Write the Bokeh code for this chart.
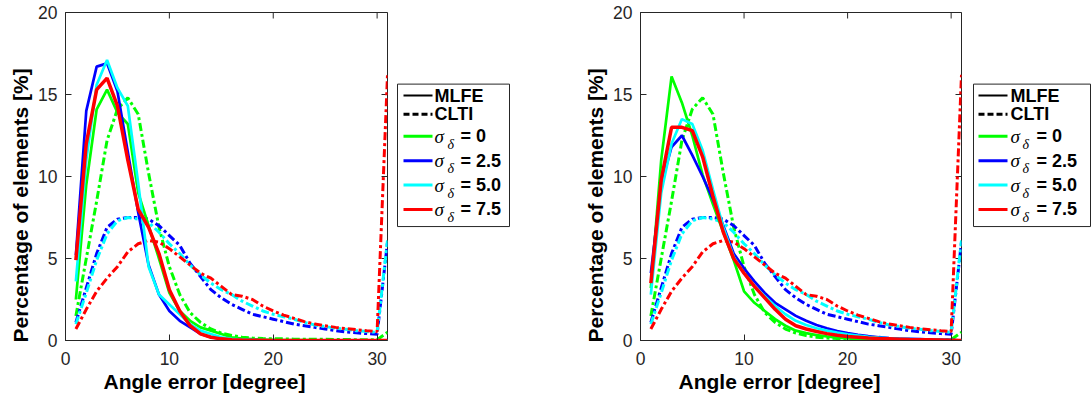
import math
from bokeh.plotting import figure
from bokeh.layouts import row
from bokeh.models import Range1d, Title, FixedTicker
from bokeh.core.properties import value
from bokeh.embed import file_html
from bokeh.resources import INLINE

# Angle-error bins (degrees); the last bin collects everything above 30
angle_bins = list(range(1, 32))
x_ticks = [0, 10, 20, 30]
y_ticks = [0, 5, 10, 15, 20]
x_max = 31
y_max = 20

sigma_labels = ["0", "2.5", "5.0", "7.5"]
sigma_colors = ["#00ff00", "#0000ff", "#00ffff", "#ff0000"]

# CLTI histograms (same reference method in both panels)
clti_s0 = [1.5, 5.0, 8.5, 12.2, 14.1, 14.8, 13.8, 10.2, 6.9, 4.5, 2.8, 1.7, 1.1, 0.7,
           0.45, 0.3, 0.2, 0.15, 0.12, 0.1, 0.1, 0.08, 0.08, 0.07, 0.07, 0.06, 0.06,
           0.05, 0.05, 0.05, 0.5]
clti_s25 = [1.1, 3.2, 5.3, 6.9, 7.4, 7.5, 7.5, 7.4, 7.0, 6.4, 5.8, 4.7, 3.9, 3.1, 2.6,
            2.2, 1.9, 1.6, 1.45, 1.3, 1.15, 1.0, 0.9, 0.8, 0.7, 0.6, 0.52, 0.47, 0.42,
            0.38, 6.0]
clti_s50 = [1.0, 2.9, 4.9, 6.5, 7.3, 7.5, 7.4, 7.2, 6.6, 5.9, 5.3, 4.6, 4.0, 3.5, 3.1,
            2.8, 2.4, 2.1, 1.8, 1.6, 1.45, 1.3, 1.1, 0.95, 0.85, 0.75, 0.68, 0.6, 0.55,
            0.5, 6.1]
clti_s75 = [0.7, 1.9, 3.0, 3.8, 4.5, 5.4, 5.9, 6.1, 6.0, 5.6, 5.1, 4.6, 4.1, 3.8, 3.3,
            2.8, 2.7, 2.5, 2.1, 1.8, 1.55, 1.35, 1.15, 1.0, 0.9, 0.8, 0.72, 0.66, 0.6,
            0.55, 16.2]

# MLFE histograms, left panel
mlfe_a_s0 = [2.5, 9.5, 14.1, 15.3, 13.9, 13.2, 9.0, 7.0, 5.0, 2.9, 1.8, 1.2, 0.8, 0.6,
             0.4, 0.2, 0.12, 0.08, 0.05, 0.04, 0.03, 0.02, 0.02, 0.01, 0.01, 0.01, 0.0,
             0.0, 0.0, 0.0, 0.0]
mlfe_a_s25 = [5.2, 14.0, 16.7, 16.9, 15.2, 11.5, 7.8, 4.6, 2.8, 1.8, 1.2, 0.8, 0.4, 0.2,
              0.1, 0.05, 0.03, 0.02, 0.01, 0.01, 0.0, 0.0, 0.0, 0.0, 0.0, 0.0, 0.0, 0.0,
              0.0, 0.0, 0.0]
mlfe_a_s50 = [3.6, 11.0, 15.6, 17.1, 15.4, 14.3, 9.6, 4.5, 2.8, 2.2, 1.6, 1.0, 0.6, 0.4,
              0.2, 0.1, 0.05, 0.03, 0.02, 0.01, 0.0, 0.0, 0.0, 0.0, 0.0, 0.0, 0.0, 0.0,
              0.0, 0.0, 0.0]
mlfe_a_s75 = [4.9, 12.0, 15.3, 16.0, 14.3, 11.0, 8.0, 6.9, 5.3, 3.1, 1.8, 0.9, 0.4, 0.2,
              0.1, 0.05, 0.03, 0.02, 0.01, 0.0, 0.0, 0.0, 0.0, 0.0, 0.0, 0.0, 0.0, 0.0,
              0.0, 0.0, 0.0]

# MLFE histograms, right panel
mlfe_b_s0 = [3.2, 11.0, 16.1, 14.5, 12.5, 10.1, 8.3, 6.6, 4.9, 3.0, 2.3, 1.8, 1.3, 0.9,
             0.6, 0.45, 0.33, 0.25, 0.18, 0.13, 0.1, 0.08, 0.06, 0.05, 0.04, 0.03, 0.02,
             0.02, 0.01, 0.01, 0.0]
mlfe_b_s25 = [4.1, 9.5, 11.8, 12.5, 11.3, 10.0, 8.6, 7.0, 5.3, 4.4, 3.6, 2.9, 2.3, 1.9,
              1.5, 1.2, 0.95, 0.75, 0.58, 0.45, 0.35, 0.27, 0.2, 0.15, 0.12, 0.1, 0.08,
              0.06, 0.05, 0.04, 0.0]
mlfe_b_s50 = [2.8, 9.0, 12.0, 13.5, 13.2, 11.6, 9.2, 6.9, 5.1, 4.1, 3.3, 2.7, 2.1, 1.6,
              1.2, 0.95, 0.75, 0.6, 0.48, 0.38, 0.3, 0.22, 0.17, 0.13, 0.1, 0.08, 0.06,
              0.05, 0.04, 0.03, 0.0]
mlfe_b_s75 = [3.5, 9.8, 13.0, 13.0, 12.8, 11.2, 8.8, 6.6, 5.0, 4.1, 3.3, 2.6, 1.9, 1.3,
              0.9, 0.7, 0.55, 0.42, 0.32, 0.25, 0.2, 0.15, 0.12, 0.1, 0.08, 0.06, 0.05,
              0.04, 0.03, 0.02, 0.0]

clti_series = [clti_s0, clti_s25, clti_s50, clti_s75]
mlfe_left = [mlfe_a_s0, mlfe_a_s25, mlfe_a_s50, mlfe_a_s75]
mlfe_right = [mlfe_b_s0, mlfe_b_s25, mlfe_b_s50, mlfe_b_s75]

AX = "#262626"
SANS = "Liberation Sans"
SERIF = "Liberation Serif"
DASH = "8 3 3 3"


def panel(width, border_left, mlfe_sets):
    p = figure(width=width, height=403, output_backend="svg", toolbar_location=None,
               x_range=Range1d(0, x_max), y_range=Range1d(0, y_max),
               min_border_left=border_left, min_border_right=5,
               min_border_top=12, min_border_bottom=63)
    p.background_fill_color = "white"
    p.border_fill_color = "white"
    p.outline_line_color = AX
    p.grid.visible = False
    for ax, ticks in ((p.xaxis[0], x_ticks), (p.yaxis[0], y_ticks)):
        ax.ticker = FixedTicker(ticks=ticks)
        ax.major_tick_in = 6
        ax.major_tick_out = 0
        ax.minor_tick_line_color = None
        ax.axis_line_color = AX
        ax.major_tick_line_color = AX
        ax.major_label_text_font = SANS
        ax.major_label_text_font_size = "17.5px"
        ax.major_label_text_color = AX
    p.xaxis.major_label_standoff = 11
    p.yaxis.major_label_standoff = 8

    # mirrored tick marks along the top and right edges of the box (clipped to the frame)
    p.scatter(x_ticks, [y_max] * len(x_ticks), marker="dash", size=12,
              angle=math.pi / 2, line_color=AX, line_width=1)
    p.scatter([x_max] * len(y_ticks), y_ticks, marker="dash", size=12,
              line_color=AX, line_width=1)

    p.add_layout(Title(text="Angle error [degree]", align="left", offset=38,
                       text_font=SANS, text_font_size="21px", text_font_style="bold",
                       text_color="black", standoff=1), "below")
    p.add_layout(Title(text="Percentage of elements [%]", align="left", offset=-2,
                       text_font=SANS, text_font_size="21px", text_font_style="bold",
                       text_color="black", standoff=8), "left")

    for ys, c in zip(clti_series, sigma_colors):
        p.line(angle_bins, ys, line_color=c, line_width=3, line_dash=DASH)
    for ys, c in zip(mlfe_sets, sigma_colors):
        p.line(angle_bins, ys, line_color=c, line_width=3.5 if c == "#ff0000" else 2.7)
    return p


def legend_panel(width, box_x0, box_x1, line_x0, text_x, sub_dx, eq_dx):
    lg = figure(width=width, height=403, output_backend="svg", toolbar_location=None,
                x_range=Range1d(0, width), y_range=Range1d(403, 0),
                x_axis_location=None, y_axis_location=None,
                min_border=0, min_border_left=0, min_border_right=0,
                min_border_top=0, min_border_bottom=0)
    lg.grid.visible = False
    lg.outline_line_color = None
    lg.background_fill_color = "white"
    lg.border_fill_color = "white"
    lg.quad(left=[box_x0], right=[box_x1], top=[88], bottom=[263],
            fill_color="white", line_color=AX, line_width=1)
    line_len = 29
    # method entries
    lg.line([line_x0, line_x0 + line_len], [102, 102], line_color="black", line_width=2)
    lg.line([line_x0, line_x0 + line_len], [125, 125], line_color="black", line_width=3,
            line_dash="6 3")
    lg.text([text_x, text_x], [102, 125], text=["MLFE", "CLTI"],
            text_font=value(SANS), text_font_size="18px", text_font_style="bold",
            text_baseline="middle", text_align="left", text_color="black")
    # noise-level entries
    rows = [152, 182, 212, 242]
    for yy, c, lab in zip(rows, sigma_colors, sigma_labels):
        lg.line([line_x0, line_x0 + line_len], [yy, yy], line_color=c, line_width=3)
        lg.text([text_x], [yy], text=["σ"], text_font=value(SERIF),
                text_font_size="19px", text_font_style="italic",
                text_baseline="middle", text_align="left", text_color="black")
        lg.text([text_x + sub_dx], [yy + 10], text=["δ"], text_font=value(SERIF),
                text_font_size="14px", text_font_style="italic",
                text_baseline="middle", text_align="left", text_color="black")
        lg.text([text_x + eq_dx], [yy], text=["= " + lab], text_font=value(SANS),
                text_font_size="18px", text_font_style="bold",
                text_baseline="middle", text_align="left", text_color="black")
    return lg


p1 = panel(392, 65, mlfe_left)
leg1 = legend_panel(130, 5, 117, 11, 42, 13, 26)
p2 = panel(444, 118, mlfe_right)
leg2 = legend_panel(125, 7, 124, 12, 44, 12, 26)

layout = row(p1, leg1, p2, leg2, spacing=0)
open("out.html", "w").write(file_html(layout, INLINE))
